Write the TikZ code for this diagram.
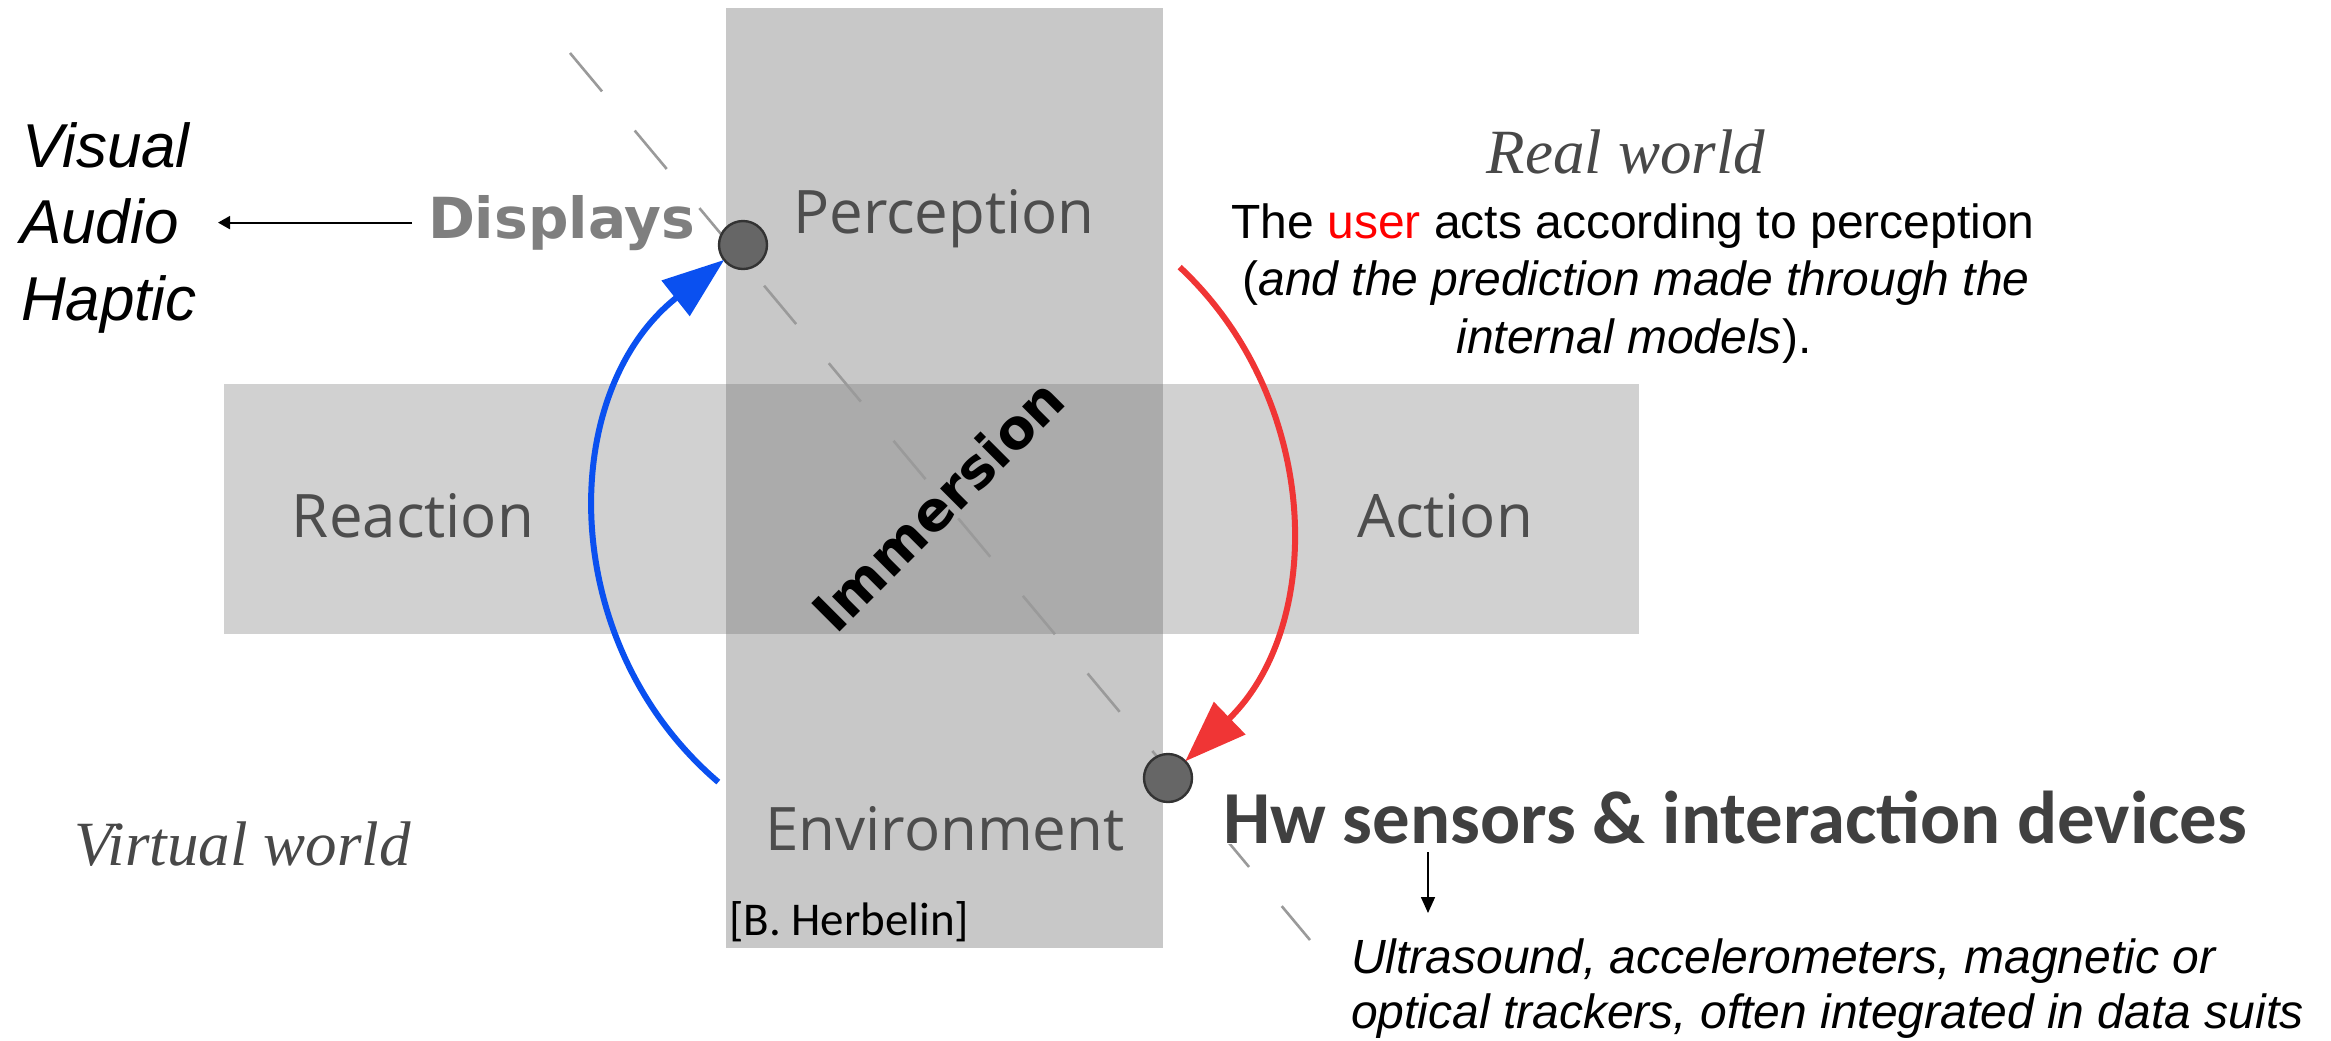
\documentclass[tikz,border=0pt]{standalone}
\usepackage{fontspec}
\setmainfont{Liberation Sans}
\newfontfamily\arialf{Liberation Sans}
\newfontfamily\timesf{Liberation Serif}
\newfontfamily\opensf{Open Sans}
\newfontfamily\dejavuf{DejaVu Sans}
\newfontfamily\carlf{Carlito}
\usetikzlibrary{arrows.meta}
\definecolor{vgray}{HTML}{C8C8C8}
\definecolor{hgray}{HTML}{D1D1D1}
\definecolor{ogray}{HTML}{ABABAB}
\definecolor{lbl}{HTML}{4D4D4D}
\definecolor{dispc}{HTML}{7F7F7F}
\definecolor{worldc}{HTML}{484848}
\definecolor{hwc}{HTML}{404040}
\definecolor{dashc}{HTML}{9A9A9A}
\definecolor{bluec}{HTML}{0A50F0}
\definecolor{redc}{HTML}{F03535}
\definecolor{dotc}{HTML}{666666}
\definecolor{userc}{HTML}{FF0000}
\begin{document}
\begin{tikzpicture}[x=0.5pt,y=-0.5pt,
  every node/.style={inner sep=0pt,outer sep=0pt},
  zone/.style={font=\opensf\fontsize{30}{36}\selectfont,text=lbl,anchor=base},
  world/.style={font=\timesf\itshape\fontsize{31.5}{38}\selectfont,text=worldc,anchor=base},
  para/.style={font=\arialf\fontsize{24}{28}\selectfont,anchor=base},
  side/.style={font=\arialf\itshape\fontsize{31}{38}\selectfont,anchor=base west},
  dev/.style={font=\arialf\itshape\fontsize{24}{28}\selectfont,anchor=base west},
  dot/.style={circle,fill=dotc,draw=black!80,line width=1.2pt,minimum size=24pt},
  thinarrow/.style={-{Triangle[length=6pt,width=6.5pt]},line width=1pt},
  downarrow/.style={-{Triangle[length=8pt,width=7pt]},line width=0.8pt},
  bigarrow/.style={-{Triangle[length=31pt,width=22pt]},line width=3pt},
  dashline/.style={draw=dashc,line width=1.3pt,dash pattern=on 25pt off 25.5pt}
]
\useasboundingbox (0,0) rectangle (2331,1040);
\fill[white] (0,0) rectangle (2331,1040);
% cross
\fill[hgray] (224,384) rectangle (1639,634);
\fill[vgray] (726,8) rectangle (1163,948);
\fill[ogray] (726,384) rectangle (1163,634);
% dashed diagonal
\coordinate (dtop) at (570,53);
\coordinate (dbot) at (1310,940);
\draw[dashline] (dtop) -- (dbot);
% points
\node[dot] (disp) at (743,245) {};
\node[dot] (sens) at (1168,778) {};
% loop arrows
\coordinate (bstart) at (718.3,782.1);
\draw[bigarrow,color=bluec] (bstart) .. controls (556,643.5) and (556.7,392.4) .. (disp);
\coordinate (rstart) at (1179.7,267.1);
\draw[bigarrow,color=redc] (rstart) .. controls (1322,400.3) and (1325.9,624.8) .. (sens);
% labels of the cross
\node[zone] (perc) at (944,233) {Perception};
\node[zone] (env) at (945,850) {Environment};
\node[zone] (react) at (413,537) {Reaction};
\node[zone] (act) at (1445,537) {Action};
\node[font=\dejavuf\bfseries\fontsize{27.5}{32}\selectfont,rotate=45] (imm) at (938,505) {Immersion};
% worlds
\node[world] (real) at (1626,173) {Real world};
\node[world,anchor=base west] (virt) at (74,865) {Virtual world};
% displays
\node[side] (vis) at (22,167) {Visual};
\node[side] (aud) at (20,243) {Audio};
\node[side] (hap) at (21,320) {Haptic};
\node[font=\dejavuf\bfseries\fontsize{28.3}{33}\selectfont,text=dispc,anchor=base west] (displays) at (428,238) {Displays};
\coordinate (vahtip) at (218,220);
\draw[thinarrow,shorten <=8pt] (displays.west) -- (displays.west -| vahtip);
% user paragraph
\node[para] (p1) at (1633,238) {The \textcolor{userc}{user} acts according to perception};
\node[para] (p2) at (1636,295) {(\textit{and the prediction made through the}};
\node[para] (p3) at (1634,353) {\textit{internal models}).};
% sensors
\node[font=\carlf\bfseries\fontsize{37.4}{45}\selectfont,text=hwc,fill=white,inner xsep=6pt,anchor=base west] (hw) at (1211,843) {Hw sensors \& interaction devices};
\coordinate (hwa) at (1428,852);
\coordinate (hwb) at (1428,913);
\draw[downarrow] (hwa) -- (hwb);
\node[dev] (u1) at (1351,973) {Ultrasound, accelerometers, magnetic or};
\node[dev] (u2) at (1351,1028) {optical trackers, often integrated in data suits};
% credit
\node[font=\carlf\fontsize{23.5}{28}\selectfont,anchor=base west] (herb) at (729,935) {[B. Herbelin]};
\end{tikzpicture}
\end{document}
